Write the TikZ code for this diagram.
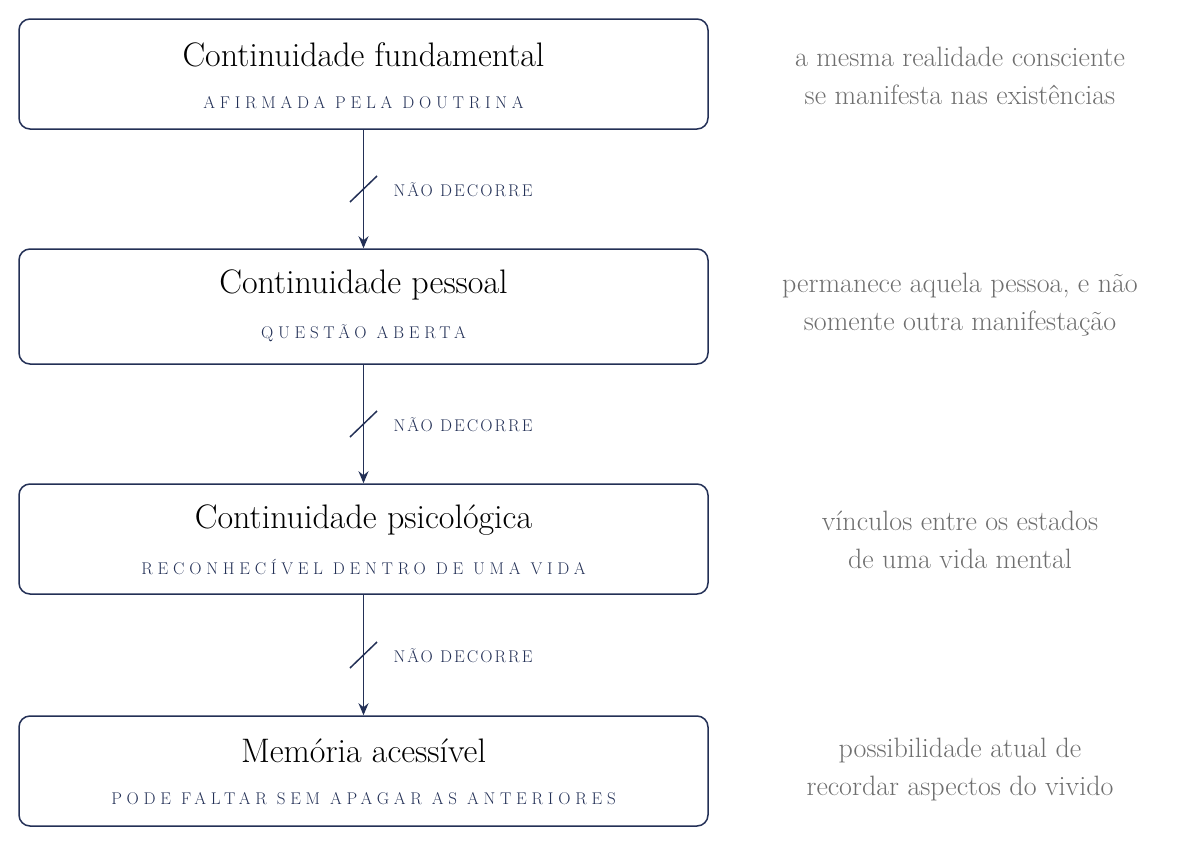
\documentclass[tikz,border=0pt]{standalone}
\usepackage{fontspec}
\setmainfont{Latin Modern Roman}
\usetikzlibrary{arrows.meta}
\definecolor{navy}{HTML}{233056}
\definecolor{gr}{HTML}{6E6E6E}
\begin{document}
\begin{tikzpicture}[x=1pt,y=-1pt,
 box/.style={draw=navy,line width=1.5pt,rounded corners=11pt,minimum width=689pt,minimum height=110pt,inner sep=0pt},
 ttl/.style={font=\fontsize{34}{38}\selectfont,text=black},
 sub/.style={font=\fontsize{17}{20}\selectfont\addfontfeatures{LetterSpace=28},text=navy},
 lbl/.style={font=\fontsize{17}{20}\selectfont\addfontfeatures{LetterSpace=12},text=navy,anchor=west},
 note/.style={font=\fontsize{28}{38}\selectfont,text=gr,align=center},
 arr/.style={draw=navy,line width=1.5pt,-{Stealth[length=12pt,width=10pt]}},
 tick/.style={draw=navy,line width=1.5pt}]
\useasboundingbox (0,0) rectangle (1200,846);
\node[box] (b1) at (363.5,74) {};
\node[box,minimum height=115pt] (b2) at (363.5,306.5) {};
\node[box] (b3) at (363.5,539) {};
\node[box] (b4) at (363.5,771) {};
\node[ttl] (t1) at (363.5,55) {Continuidade fundamental};
\node[sub] (s1) at (363.5,103) {AFIRMADA PELA DOUTRINA};
\node[ttl] (t2) at (363.5,285) {Continuidade pessoal};
\node[sub] (s2) at (363.5,333) {QUESTÃO ABERTA};
\node[ttl] (t3) at (363.5,520) {Continuidade psicológica};
\node[sub] (s3) at (363.5,567) {RECONHECÍVEL DENTRO DE UMA VIDA};
\node[ttl] (t4) at (363.5,751) {Memória acessível};
\node[sub] (s4) at (363.5,799) {PODE FALTAR SEM APAGAR AS ANTERIORES};
\node[note] (n1) at (960,76) {a mesma realidade consciente\\se manifesta nas existências};
\node[note] (n2) at (960,305) {permanece aquela pessoa, e não\\somente outra manifestação};
\node[note] (n3) at (960,540) {vínculos entre os estados\\de uma vida mental};
\node[note] (n4) at (960,770) {possibilidade atual de\\recordar aspectos do vivido};
\foreach \a/\b/\m in {b1/b2/190,b2/b3/425,b3/b4/656}{
 \draw[arr] (\a.south) -- (\b.north);
 \coordinate (p\a) at (350,\m+12);
 \coordinate (q\a) at (377,\m-14);
 \draw[tick] (p\a) -- (q\a);
 \node[lbl] (l\a) at (390,\m) {NÃO DECORRE};
}
\end{tikzpicture}
\end{document}
